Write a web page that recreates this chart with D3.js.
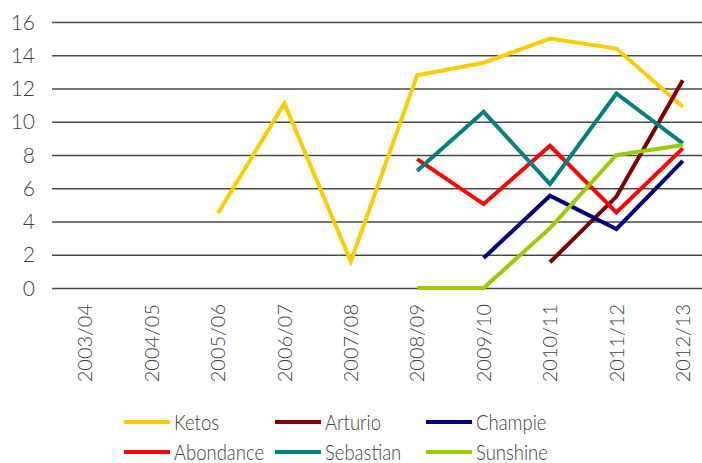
<!DOCTYPE html>
<html>
<head>
<meta charset="utf-8">
<script src="https://cdn.jsdelivr.net/npm/d3@7"></script>
<style>
  body { margin: 0; background: #fff; }
  svg text { font-family: "Lato", "Open Sans", sans-serif; font-weight: 300; fill: #404040; }
</style>
</head>
<body>
<div id="chart"></div>
<script>

var seasons = ["2003/04", "2004/05", "2005/06", "2006/07", "2007/08", "2008/09", "2009/10", "2010/11", "2011/12", "2012/13"];
var yTicks = [0, 2, 4, 6, 8, 10, 12, 14, 16];

var ketos     = [null, null, 4.5, 11.1, 1.6, 12.8, 13.55, 15.0, 14.4, 10.9];
var arturio   = [null, null, null, null, null, null, null, 1.55, 5.5, 12.5];
var champie   = [null, null, null, null, null, null, 1.8, 5.55, 3.55, 7.65];
var abondance = [null, null, null, null, null, 7.75, 5.05, 8.55, 4.55, 8.4];
var sebastian = [null, null, null, null, null, 7.05, 10.6, 6.25, 11.7, 8.7];
var sunshine  = [null, null, null, null, null, 0, 0, 3.6, 8.0, 8.6];

var seriesNames  = ["Ketos", "Arturio", "Champie", "Abondance", "Sebastian", "Sunshine"];
var seriesValues = [ketos, arturio, champie, abondance, sebastian, sunshine];
var seriesColors = ["#ffcc00", "#800000", "#000080", "#ff0000", "#008080", "#99cc00"];

var width = 702, height = 463;
var margin = { top: 22, left: 52 };
var plotRight = 716, plotBottom = 288;

var svg = d3.select("#chart").append("svg")
  .attr("width", width)
  .attr("height", height);

var xScale = d3.scalePoint().domain(seasons).range([margin.left, plotRight]).padding(0.5);
var yScale = d3.scaleLinear().domain([0, 16]).range([plotBottom, margin.top]);

// gridlines
svg.append("g")
  .attr("class", "grid")
  .attr("transform", "translate(" + margin.left + ",0)")
  .call(d3.axisLeft(yScale).tickValues(yTicks).tickSize(-(plotRight - margin.left)).tickFormat(""))
  .call(function (g) { g.select(".domain").remove(); })
  .selectAll("line")
  .attr("stroke", "#4a4a4a")
  .attr("stroke-width", 1.4);

// y labels
svg.append("g")
  .selectAll("text")
  .data(yTicks)
  .enter()
  .append("text")
  .attr("x", 35)
  .attr("y", function (d) { return yScale(d); })
  .attr("dy", "0.36em")
  .attr("text-anchor", "end")
  .style("font-size", "21px")
  .text(function (d) { return d; });

// x labels
svg.append("g")
  .selectAll("text")
  .data(seasons)
  .enter()
  .append("text")
  .attr("transform", function (d) { return "translate(" + xScale(d) + ",304) rotate(-90)"; })
  .attr("dy", "0.36em")
  .attr("text-anchor", "end")
  .style("font-size", "20px")
  .text(function (d) { return d; });

var line = d3.line()
  .defined(function (d) { return d.v !== null; })
  .x(function (d) { return xScale(d.s); })
  .y(function (d) { return yScale(d.v); });

seriesValues.forEach(function (vals, i) {
  var pts = vals.map(function (v, j) { return { s: seasons[j], v: v }; });
  svg.append("path")
    .datum(pts)
    .attr("fill", "none")
    .attr("stroke", seriesColors[i])
    .attr("stroke-width", 4)
    .attr("d", line);
});

// legend
var legend = svg.append("g").selectAll("g")
  .data(seriesNames)
  .enter()
  .append("g")
  .attr("transform", function (d, i) {
    return "translate(" + (124 + (i % 3) * 151) + "," + (422 + Math.floor(i / 3) * 30) + ")";
  });

legend.append("line")
  .attr("x1", 0).attr("x2", 46)
  .attr("stroke", function (d, i) { return seriesColors[i]; })
  .attr("stroke-width", 4);

// the original font is condensed, squeeze it a bit
legend.append("text")
  .attr("transform", "translate(50,0) scale(0.88,1)")
  .attr("dy", "0.36em")
  .style("font-size", "21px")
  .text(function (d) { return d; });

</script>
</body>
</html>
